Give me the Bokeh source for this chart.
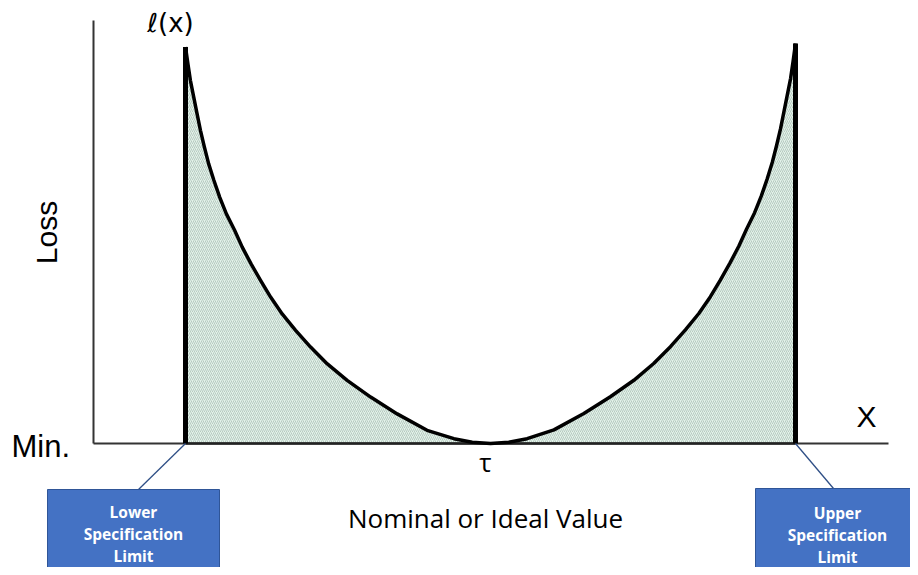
import math
from bokeh.plotting import figure
from bokeh.models import Range1d, Label
from bokeh.embed import file_html
from bokeh.resources import INLINE

# ---- data: quality loss curve l(x), deviation from nominal tau (LSL=-1, USL=+1), loss normalised ----
left_dev = [-1.0, -0.992, -0.984, -0.973, -0.962, -0.951, -0.938, -0.924, -0.907, -0.888,
            -0.866, -0.839, -0.814, -0.785, -0.754, -0.721, -0.683, -0.639, -0.590, -0.535,
            -0.470, -0.393, -0.306, -0.208, -0.120, -0.060, 0.0]
left_loss = [0.991, 0.949, 0.908, 0.866, 0.824, 0.783, 0.741, 0.699, 0.658, 0.616,
             0.574, 0.533, 0.491, 0.449, 0.408, 0.366, 0.324, 0.283, 0.241, 0.199,
             0.158, 0.116, 0.074, 0.033, 0.012, 0.003, 0.0]
right_dev = [0.0, 0.060, 0.120, 0.208, 0.306, 0.393, 0.470, 0.535, 0.590, 0.639, 0.683,
             0.721, 0.754, 0.785, 0.814, 0.839, 0.866, 0.888, 0.907, 0.924, 0.938,
             0.951, 0.962, 0.973, 0.984, 0.992, 1.0]
right_loss = [0.0, 0.003, 0.012, 0.034, 0.075, 0.117, 0.158, 0.200, 0.242, 0.284, 0.325,
              0.367, 0.409, 0.451, 0.493, 0.535, 0.577, 0.619, 0.661, 0.703, 0.745,
              0.787, 0.829, 0.871, 0.913, 0.955, 1.0]
spec_limits = [-1.0, 1.0]
spec_names = ["Lower\nSpecification\nLimit", "Upper\nSpecification\nLimit"]

curve_x = left_dev + right_dev[1:]
curve_y = left_loss + right_loss[1:]

# ---- layout helpers: reference pixel -> data coordinates ----
def dx(px):
    return (px - 490) / 305.0

def dy(py):
    return (443 - py) / 400.0

W, H = 910, 567
p = figure(width=W, height=H, output_backend="svg", toolbar_location=None,
           x_range=Range1d(dx(0), dx(W)), y_range=Range1d(dy(H), dy(0)),
           min_border=0, outline_line_color=None)
p.axis.visible = False
p.grid.visible = False
p.background_fill_color = "white"
p.border_fill_color = "white"

# shaded loss area
p.varea(x=curve_x, y1=[0] * len(curve_x), y2=curve_y,
        fill_color="#e3f2ea", hatch_pattern="right_diagonal_line",
        hatch_color="#9db3a8", hatch_scale=4, hatch_weight=0.8, hatch_alpha=0.8)

# axes (drawn as plain lines)
p.segment(x0=[dx(93)], y0=[0], x1=[dx(888)], y1=[0], line_color="#333333", line_width=2)
p.segment(x0=[dx(93)], y0=[0], x1=[dx(93)], y1=[dy(20)], line_color="#333333", line_width=2)
p.segment(x0=[spec_limits[0]], y0=[0], x1=[spec_limits[1]], y1=[0], line_color="#222222", line_width=2.5)

# loss curve
p.line(curve_x, curve_y, line_color="black", line_width=3.5, line_join="round")

# spec-limit verticals
p.segment(x0=spec_limits, y0=[0, 0], x1=spec_limits, y1=[left_loss[0], right_loss[-1]],
          line_color="black", line_width=5)

# connectors to boxes
p.segment(x0=[spec_limits[0], spec_limits[1]], y0=[0, 0], x1=[dx(138), dx(833)], y1=[dy(489), dy(488)],
          line_color="#2F4F86", line_width=1.3)

# boxes
p.quad(left=[dx(47), dx(755)], right=[dx(219), dx(917)], top=[dy(489), dy(488)],
       bottom=[dy(569), dy(569)], fill_color="#4472C4", line_color="#2F5597", line_width=1)

box_cx = [dx(133), dx(837)]
line_ys = [[511, 533, 555], [512, 534, 556]]
for name, cx, ys in zip(spec_names, box_cx, line_ys):
    for txt, yy in zip(name.split("\n"), ys):
        p.add_layout(Label(x=cx, y=dy(yy), text=txt, text_align="center", text_baseline="middle",
                           text_font="Open Sans", text_font_style="bold", text_font_size="15.5px",
                           text_color="white"))

# texts
p.add_layout(Label(x=dx(170), y=dy(22), text="ℓ(x)", text_align="center", text_baseline="middle",
                   text_font="DejaVu Sans", text_font_size="26px", text_color="black"))
p.add_layout(Label(x=dx(46), y=dy(232), text="Loss", angle=math.pi / 2, text_align="center",
                   text_baseline="middle", text_font="Liberation Sans", text_font_size="30px",
                   text_color="black"))
p.add_layout(Label(x=dx(11), y=dy(446), text="Min.", text_align="left", text_baseline="middle",
                   text_font="Liberation Sans", text_font_size="31px", text_color="black"))
p.add_layout(Label(x=dx(866), y=dy(416), text="X", text_align="center", text_baseline="middle",
                   text_font="Liberation Sans", text_font_size="30px", text_color="black"))
p.add_layout(Label(x=dx(485), y=dy(461), text="τ", text_align="center", text_baseline="middle",
                   text_font="Open Sans", text_font_size="26px", text_color="black"))
p.add_layout(Label(x=dx(485), y=dy(517), text="Nominal or Ideal Value", text_align="center",
                   text_baseline="alphabetic", text_font="Open Sans", text_font_size="26px",
                   text_color="black"))

open("out.html", "w").write(file_html(p, INLINE))
